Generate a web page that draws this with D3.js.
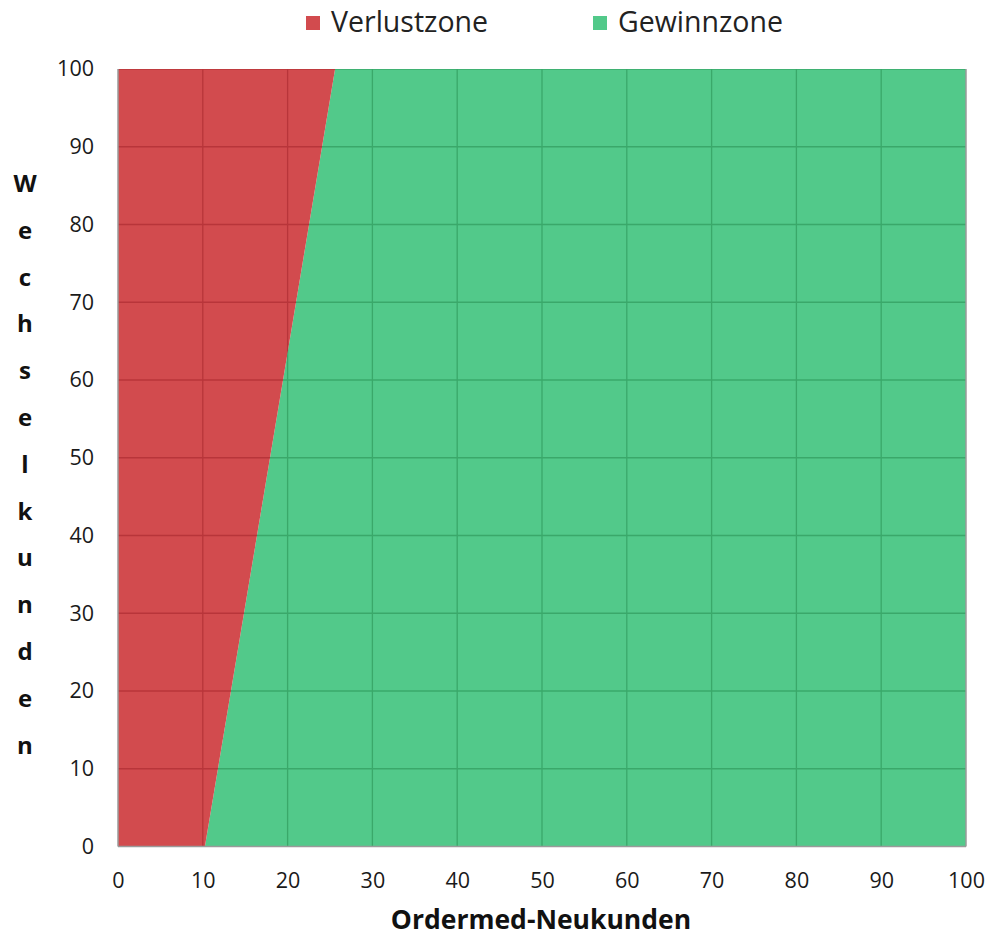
<!DOCTYPE html>
<html><head><meta charset="utf-8">
<script src="https://cdn.jsdelivr.net/npm/d3@7"></script>
<style>body{margin:0;background:#fff}svg{display:block}</style>
</head><body>
<svg id="c" width="987" height="936"></svg>
<script>
// Data
const seriesNames = ["Verlustzone", "Gewinnzone"];
const seriesColors = ["#d24b4e", "#52c98a"];
const wechselkunden = [0, 100];               // y values
const breakEvenNeukunden = [10.25, 25.6];     // x value of the zone boundary at each y
const xTicks = [0,10,20,30,40,50,60,70,80,90,100];
const yTicks = [0,10,20,30,40,50,60,70,80,90,100];
const xTitle = "Ordermed-Neukunden";
const yTitle = "Wechselkunden";

const svg = d3.select("#c");
const m = {l:118, r:966, t:69, b:846.5};
const x = d3.scaleLinear().domain([0,100]).range([m.l, m.r]);
const y = d3.scaleLinear().domain([0,100]).range([m.b, m.t]);

const boundary = wechselkunden.map((w,i)=>({w, n: breakEvenNeukunden[i]}));
const redPts = [[0,0], ...boundary.map(d=>[d.n,d.w]), [0,100]];
const greenPts = [...boundary.map(d=>[d.n,d.w]), [100,100], [100,0]];
const line = d3.line().x(d=>x(d[0])).y(d=>y(d[1]));

const defs = svg.append("defs");
defs.append("clipPath").attr("id","redClip").append("path").attr("d", line(redPts)+"Z");
defs.append("clipPath").attr("id","greenClip").append("path").attr("d", line(greenPts)+"Z");

svg.append("path").attr("d", line(greenPts)+"Z").attr("fill", seriesColors[1]);
svg.append("path").attr("d", line(redPts)+"Z").attr("fill", seriesColors[0]);

function grid(g, color){
  g.selectAll("line.v").data(xTicks.filter(t=>t>0 && t<100)).join("line")
    .attr("class","v")
    .attr("x1",d=>x(d)).attr("x2",d=>x(d)).attr("y1",y(0)).attr("y2",y(100))
    .attr("stroke",color).attr("stroke-width",1.3);
  g.selectAll("line.h").data(yTicks.filter(t=>t>0)).join("line")
    .attr("class","h")
    .attr("y1",d=>y(d)).attr("y2",d=>y(d)).attr("x1",x(0)).attr("x2",x(100))
    .attr("stroke",color).attr("stroke-width",1.3);
}
const gr = svg.append("g").attr("clip-path","url(#redClip)");
grid(gr, "#b8353a");
const gg = svg.append("g").attr("clip-path","url(#greenClip)");
grid(gg, "#3aa86a");

// axis frame lines (left, bottom, right) in gray
svg.append("line").attr("x1",x(0)).attr("x2",x(0)).attr("y1",y(0)).attr("y2",y(100)).attr("stroke","#9a9a9a").attr("stroke-width",1.5);
svg.append("line").attr("x1",x(0)).attr("x2",x(100)).attr("y1",y(0)).attr("y2",y(0)).attr("stroke","#9a9a9a").attr("stroke-width",1.5);
svg.append("line").attr("x1",x(100)).attr("x2",x(100)).attr("y1",y(0)).attr("y2",y(100)).attr("stroke","#9a9a9a").attr("stroke-width",1.5);

const font = "'Open Sans', 'Noto Sans', sans-serif";
const xAxis = svg.append("g").attr("transform",`translate(0,${y(0)})`)
  .call(d3.axisBottom(x).tickValues(xTicks).tickSize(0).tickPadding(41).tickFormat(d3.format("d")));
const yAxis = svg.append("g").attr("transform",`translate(${x(0)},0)`)
  .call(d3.axisLeft(y).tickValues(yTicks).tickSize(0).tickPadding(24).tickFormat(d3.format("d")));
[xAxis,yAxis].forEach(a=>{
  a.select(".domain").remove();
  a.selectAll("text").attr("font-family",font).attr("font-size",21.5).attr("fill","#1a1a1a");
});
xAxis.selectAll("text").attr("dy","0");

svg.append("text").attr("x",541).attr("y",929).attr("text-anchor","middle")
  .attr("font-family",font).attr("font-weight","bold").attr("font-size",26.5).attr("fill","#111").text(xTitle);

const letters = yTitle.split("");
svg.append("g").selectAll("text").data(letters).join("text")
  .attr("x",25).attr("y",(d,i)=>192+i*46.8).attr("text-anchor","middle")
  .attr("font-family",font).attr("font-weight","bold").attr("font-size",24).attr("fill","#111")
  .text(d=>d);

// legend
const legX = [306, 593];
const leg = svg.append("g").selectAll("g").data(seriesNames).join("g")
  .attr("transform",(d,i)=>`translate(${legX[i]},0)`);
leg.append("rect").attr("x",0).attr("y",16).attr("width",14).attr("height",14).attr("fill",(d,i)=>seriesColors[i]);
leg.append("text").attr("x",25).attr("y",32).attr("font-family",font).attr("font-size",28.5).attr("fill","#222").text(d=>d);
</script>
</body></html>
